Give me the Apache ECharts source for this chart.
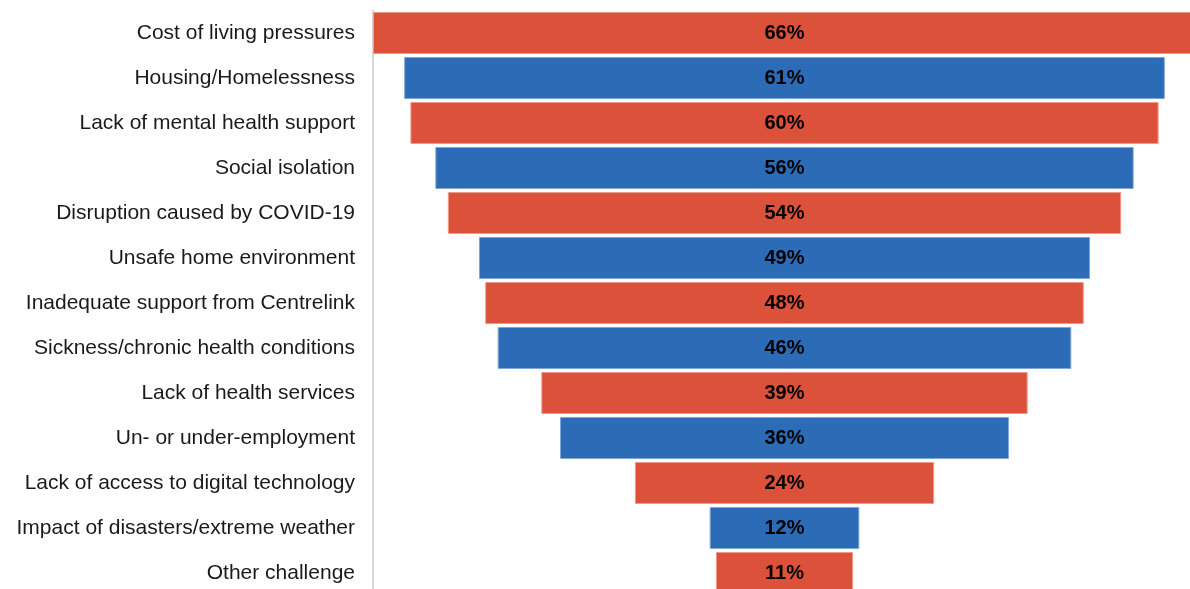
<!DOCTYPE html>
<html><head><meta charset="utf-8">
<script src="https://cdn.jsdelivr.net/npm/echarts@6/dist/echarts.min.js"></script>
<style>html,body{margin:0;padding:0;background:#fff}#c{width:1190px;height:589px}</style>
</head><body><div id="c"></div>
<script>
var categories = ["Cost of living pressures","Housing/Homelessness","Lack of mental health support","Social isolation","Disruption caused by COVID-19","Unsafe home environment","Inadequate support from Centrelink","Sickness/chronic health conditions","Lack of health services","Un- or under-employment","Lack of access to digital technology","Impact of disasters/extreme weather","Other challenge"];
var values = [66,61,60,56,54,49,48,46,39,36,24,12,11];
var colors = ["#DB5139","#2C6BB5"];
var maxV = Math.max.apply(null, values);
var offsets = values.map(function(v){return (maxV - v)/2;});
var chart = echarts.init(document.getElementById('c'));
chart.setOption({
  animation:false,
  grid:{left:373,right:-6,top:10.5,bottom:-6.5,containLabel:false,outerBoundsMode:'none'},
  xAxis:{type:'value',min:0,max:maxV,show:false},
  yAxis:{type:'category',data:categories,inverse:true,
    axisLine:{show:true,lineStyle:{color:'#d9d9d9',width:2}},
    axisTick:{show:false},
    axisLabel:{color:'#1a1a1a',fontSize:21,fontFamily:'Liberation Sans, Arial, sans-serif',margin:18}},
  series:[
    {type:'bar',stack:'s',data:offsets,itemStyle:{color:'transparent'},barWidth:42,silent:true},
    {type:'bar',stack:'s',barWidth:42,
     data:values.map(function(v,i){return {value:v,itemStyle:{color:colors[i%2],borderColor:i%2?'#7FA6D6':'#EE9A8A',borderWidth:1}};}),
     label:{show:true,position:'inside',formatter:'{c}%',color:'#000',fontWeight:'bold',fontSize:20,fontFamily:'Liberation Sans, Arial, sans-serif'}}
  ]
});
</script></body></html>
